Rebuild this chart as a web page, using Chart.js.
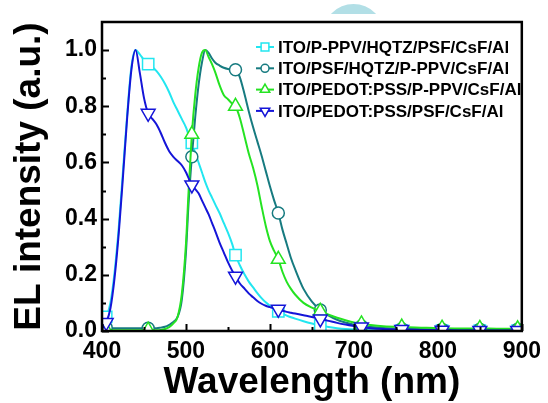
<!DOCTYPE html>
<html>
<head>
<meta charset="utf-8">
<script src="https://cdn.jsdelivr.net/npm/chart.js@4/dist/chart.umd.min.js"></script>
<style>
  html, body { margin: 0; padding: 0; background: #fff; }
  #wrap { width: 548px; height: 403px; position: relative; }
</style>
</head>
<body>
<div id="wrap"><canvas id="c" width="548" height="403"></canvas></div>
<script>
// ---- data ----
const wavelengths = [400,405,410,415,420,425,430,435,440,445,450,455,460,465,470,475,480,485,490,495,500,
  503,507,511,515,519,523,527,531,535,540,545,550,555,559,564,
  570,575,580,585,590,595,600,605,610,615,620,625,630,
  640,650,660,670,680,690,700,709,720,735,757,780,805,830,850,870,895,900];

const markerWavelengths = [405,455,507,559,610,660,709,757,805,850,895];

const seriesNames = [
  "ITO/P-PPV/HQTZ/PSF/CsF/Al",
  "ITO/PSF/HQTZ/P-PPV/CsF/Al",
  "ITO/PEDOT:PSS/P-PPV/CsF/Al",
  "ITO/PEDOT:PSS/PSF/CsF/Al"
];

const cyanValues = [0.035,0.05,0.10,0.21,0.37,0.57,0.77,0.94,1.00,0.985,0.965,0.95,0.94,0.925,0.905,0.88,0.85,0.815,0.785,0.755,0.725,
  0.70,0.67,0.635,0.60,0.565,0.53,0.50,0.475,0.45,0.42,0.385,0.35,0.31,0.27,0.235,
  0.20,0.175,0.155,0.135,0.117,0.102,0.09,0.08,0.07,0.062,0.055,0.049,0.044,
  0.035,0.027,0.02,0.014,0.01,0.007,0.005,0.004,0.003,0.002,0.002,0.001,0.001,0.001,0.001,0.001,0.001,0.001];

const tealValues = [0.015,0.012,0.01,0.01,0.01,0.01,0.01,0.01,0.01,0.01,0.01,0.01,0.01,0.01,0.012,0.015,0.022,0.032,0.05,0.11,0.28,
  0.45,0.62,0.76,0.875,0.955,1.00,0.99,0.97,0.955,0.945,0.937,0.933,0.932,0.93,0.905,
  0.84,0.78,0.725,0.675,0.625,0.57,0.515,0.465,0.42,0.36,0.31,0.26,0.22,
  0.15,0.105,0.075,0.055,0.04,0.03,0.022,0.018,0.014,0.011,0.008,0.007,0.006,0.006,0.006,0.006,0.006,0.006];

const greenValues = [0.003,0.003,0.003,0.003,0.003,0.003,0.003,0.003,0.003,0.003,0.003,0.003,0.003,0.003,0.004,0.007,0.014,0.027,0.05,0.13,0.31,
  0.49,0.70,0.84,0.935,0.99,1.00,0.975,0.95,0.92,0.875,0.84,0.825,0.81,0.80,0.76,
  0.69,0.63,0.58,0.52,0.445,0.375,0.32,0.285,0.255,0.21,0.175,0.15,0.13,
  0.10,0.083,0.07,0.058,0.047,0.038,0.03,0.025,0.021,0.017,0.014,0.012,0.01,0.009,0.009,0.008,0.008,0.008];

const blueValues = [0.01,0.03,0.08,0.19,0.35,0.55,0.76,0.93,1.00,0.92,0.83,0.775,0.755,0.735,0.705,0.67,0.64,0.62,0.605,0.59,0.565,
  0.545,0.52,0.505,0.49,0.465,0.44,0.415,0.385,0.355,0.315,0.28,0.245,0.215,0.195,0.17,
  0.15,0.133,0.12,0.107,0.097,0.09,0.085,0.08,0.077,0.072,0.068,0.065,0.062,
  0.056,0.05,0.043,0.036,0.029,0.023,0.018,0.014,0.01,0.007,0.005,0.004,0.003,0.002,0.002,0.002,0.002,0.002];

const xTickValues = [400,500,600,700,800,900];
const yTickValues = [0.0,0.2,0.4,0.6,0.8,1.0];

// ---- chart ----
const FONT = "'Liberation Sans', Arial, Helvetica, sans-serif";
const toPoints = vals => wavelengths.map((w, i) => ({x: w, y: vals[i]}));
const markerRadius = r => ctx => markerWavelengths.includes(wavelengths[ctx.dataIndex]) ? r : 0;

function makeSet(label, vals, color, style, r, rot, order) {
  return {
    label, data: toPoints(vals), borderColor: color, borderWidth: 2,
    pointStyle: style, pointRotation: rot, pointRadius: markerRadius(r), pointHoverRadius: 0,
    pointBackgroundColor: '#ffffff', pointBorderColor: color, pointBorderWidth: 1.5,
    cubicInterpolationMode: 'monotone', fill: false, order
  };
}

const datasets = [
  makeSet(seriesNames[0], cyanValues, '#22e6f0', 'rect', 8, 0, 3),
  makeSet(seriesNames[1], tealValues, '#177b80', 'circle', 6, 0, 2),
  makeSet(seriesNames[2], greenValues, '#25e322', 'triangle', 8, 0, 1),
  makeSet(seriesNames[3], blueValues, '#1515d8', 'triangle', 8, 180, 0)
];

const decorPlugin = {
  id: 'decor',
  beforeDraw(chart) {
    const c = chart.ctx;
    // light-blue arc at the top edge
    c.save();
    c.beginPath(); c.rect(0, 0, chart.width, 14); c.clip();
    c.fillStyle = '#b2dfe6';
    c.beginPath(); c.arc(353.5, 34.5, 30.5, 0, Math.PI * 2); c.fill();
    c.restore();
  },
  afterDatasetsDraw(chart) {
    const c = chart.ctx, a = chart.chartArea;
    const xs = chart.scales.x, ys = chart.scales.y;
    c.save();
    c.strokeStyle = '#000'; c.lineWidth = 2;
    // inward ticks
    c.beginPath();
    for (let v = 400; v <= 900; v += 50) {
      const px = Math.round(xs.getPixelForValue(v)) + 0.5;
      const len = (v % 100 === 0) ? 7 : 4;
      c.moveTo(px, a.bottom); c.lineTo(px, a.bottom - len);
    }
    for (let k = 0; k <= 10; k++) {
      const v = k / 10;
      const py = Math.round(ys.getPixelForValue(v)) + 0.5;
      const len = (k % 2 === 0) ? 7 : 4;
      c.moveTo(a.left, py); c.lineTo(a.left + len, py);
    }
    c.stroke();
    // frame
    c.lineWidth = 2.5;
    c.strokeRect(a.left, a.top, a.right - a.left, a.bottom - a.top);
    // legend
    const x0 = 256, x1 = 274, tx = 278, y0 = 47, dy = 21.3;
    c.font = "bold 17px " + FONT;
    c.textBaseline = 'middle'; c.textAlign = 'left';
    chart.data.datasets.forEach((ds, i) => {
      const y = y0 + i * dy;
      c.strokeStyle = ds.borderColor; c.lineWidth = 2;
      c.beginPath(); c.moveTo(x0, y); c.lineTo(x1, y); c.stroke();
      c.fillStyle = '#ffffff'; c.lineWidth = 1.5;
      Chart.helpers.drawPoint(c, {pointStyle: ds.pointStyle, rotation: ds.pointRotation, radius: ds.pointStyle === 'circle' ? 4 : 5.5, borderWidth: 1.5}, (x0 + x1) / 2, y);
      c.fillStyle = '#000';
      c.fillText(ds.label, tx, y + 1);
    });
    c.restore();
  }
};

new Chart(document.getElementById('c'), {
  type: 'line',
  data: { datasets },
  plugins: [decorPlugin],
  options: {
    responsive: false, animation: false,
    layout: { padding: { left: 0, right: 21, top: 22, bottom: 0 } },
    plugins: { legend: { display: false }, tooltip: { enabled: false } },
    scales: {
      x: {
        type: 'linear', min: 400, max: 900,
        afterBuildTicks: s => { s.ticks = xTickValues.map(v => ({value: v})); },
        afterFit: s => { s.height = 72; },
        grid: { display: false, drawTicks: false },
        border: { display: false },
        ticks: { autoSkip: false, maxRotation: 0, padding: 7, color: '#000', font: { family: FONT, size: 23, weight: 'bold' } },
        title: { display: true, text: 'Wavelength (nm)', color: '#000', padding: { top: 0, bottom: -2 }, font: { family: FONT, size: 37, weight: 'bold' } }
      },
      y: {
        min: 0, max: 1.1,
        afterBuildTicks: s => { s.ticks = yTickValues.map(v => ({value: v})); },
        afterFit: s => { s.width = 102; },
        grid: { display: false, drawTicks: false },
        border: { display: false },
        ticks: { padding: 5, color: '#000', callback: v => Number(v).toFixed(1), font: { family: FONT, size: 23, weight: 'bold' } },
        title: { display: true, text: 'EL intensity (a.u.)', color: '#000', padding: { top: 8, bottom: 0 }, font: { family: FONT, size: 37, weight: 'bold' } }
      }
    }
  }
});
</script>
</body>
</html>
